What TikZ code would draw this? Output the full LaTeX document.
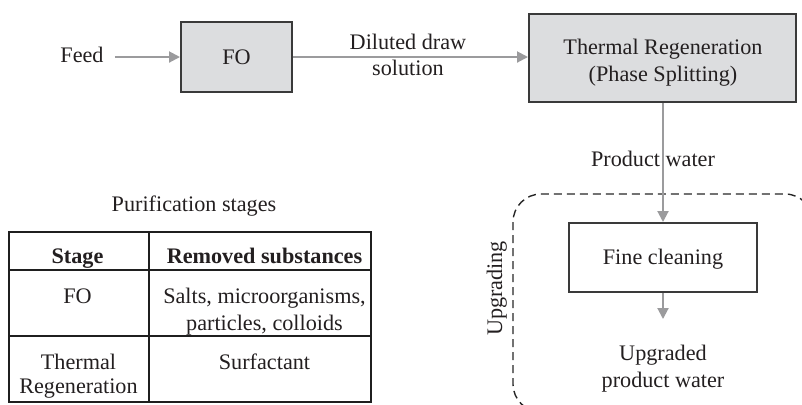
\documentclass[tikz,border=0pt]{standalone}
\usepackage{fontspec}
\setmainfont{Liberation Serif}
\usetikzlibrary{arrows.meta}
\definecolor{boxfill}{HTML}{DCDDDF}
\definecolor{boxline}{HTML}{3A3A3A}
\definecolor{arr}{HTML}{9B9B9D}
\definecolor{txt}{HTML}{231F20}
\begin{document}
\begin{tikzpicture}[x=0.5pt,y=-0.5pt,
  font=\fontsize{11.1}{13.5}\selectfont, text=txt,
  box/.style={draw=boxline, line width=1pt, inner sep=0pt},
  flow/.style={draw=arr, line width=1pt, -{Triangle[length=5.5pt,width=5.5pt]}},
  lbl/.style={inner sep=0pt, anchor=base},
  hd/.style={lbl, font=\fontsize{11.1}{13.5}\selectfont\bfseries},
  grid/.style={draw=black!88, line width=1pt},
  group/.style={draw=black!85, line width=0.7pt, dash pattern=on 4pt off 2.5pt, rounded corners=14pt}]
\useasboundingbox (0,0) rectangle (802,404);
% top flow
\node[lbl] (feed) at (82,62) {Feed};
\node[box, fill=boxfill, minimum width=55.5pt, minimum height=35pt] (fo) at (236.5,57) {};
\node[lbl] (fotxt) at (236.5,64) {FO};
\node[box, fill=boxfill, minimum width=133.5pt, minimum height=44pt] (thermal) at (662.5,58) {};
\node[lbl] (th1) at (663,54) {Thermal Regeneration};
\node[lbl] (th2) at (663,81.5) {(Phase Splitting)};
\draw[flow, shorten <=5.5pt] (feed.east |- fo.west) -- (fo.west);
\draw[flow] (fo.east) -- (thermal.west |- fo.east);
\node[lbl] (dil1) at (408,49) {Diluted draw};
\node[lbl] (dil2) at (408,75) {solution};
% upgrading group
\draw[group] (513,194) rectangle (813,412);
\node[lbl, rotate=90] (upg) at (502,288.5) {Upgrading};
\node[box, fill=white, minimum width=94pt, minimum height=34.5pt] (fine) at (663,257.5) {};
\node[lbl] (finetxt) at (663,264) {Fine cleaning};
\draw[flow] (thermal.south -| fine.north) -- (fine.north);
\node[lbl] (pw) at (653,166) {Product water};
\coordinate (upend) at (663,319);
\draw[flow] (fine.south) -- (upend);
\node[lbl] (upw1) at (663,360) {Upgraded};
\node[lbl] (upw2) at (663,387) {product water};
% table
\node[lbl] (ptitle) at (194,211) {Purification stages};
\draw[grid] (9,232) rectangle (371,402);
\draw[grid] (9,270) -- (371,270);
\draw[grid] (9,336) -- (371,336);
\draw[grid] (149,232) -- (149,402);
\node[hd] (h1) at (77.5,263) {Stage};
\node[hd] (h2) at (264.5,263) {Removed substances};
\node[lbl] (c11) at (77.5,303) {FO};
\node[lbl] (c12a) at (264.5,303) {Salts, microorganisms,};
\node[lbl] (c12b) at (264.5,330) {particles, colloids};
\node[lbl] (c21a) at (78.5,369) {Thermal};
\node[lbl] (c21b) at (78.5,393) {Regeneration};
\node[lbl] (c22) at (264.5,369) {Surfactant};
\end{tikzpicture}
\end{document}
